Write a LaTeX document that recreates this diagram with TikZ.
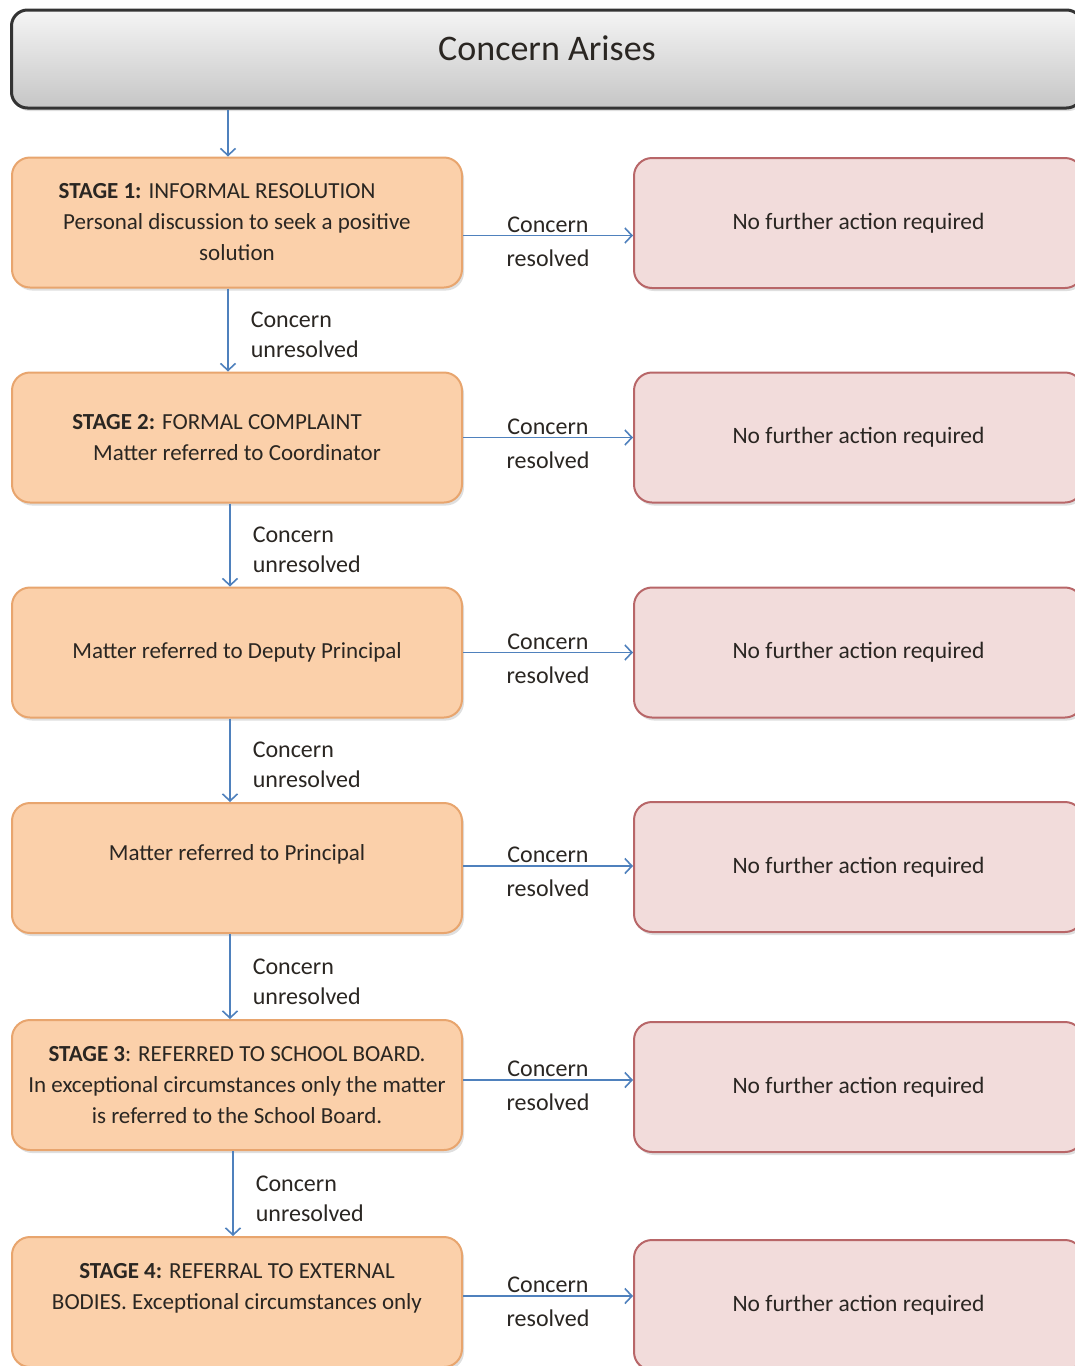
\documentclass[tikz,border=0pt]{standalone}
\usepackage{fontspec}
\setmainfont{Carlito}
\usetikzlibrary{arrows.meta,shadows}
\definecolor{orfill}{HTML}{FBD0AA}
\definecolor{ordraw}{HTML}{E8A56E}
\definecolor{pkfill}{HTML}{F2DCDB}
\definecolor{pkdraw}{HTML}{B86668}
\definecolor{arrblue}{HTML}{4F81BD}
\definecolor{txt}{HTML}{2A2622}
\begin{document}
\begin{tikzpicture}[x=1pt,y=-1pt,
  every node/.style={text=txt},
  shad/.style={drop shadow={opacity=0.25,shadow xshift=2pt,shadow yshift=-3pt}},
  topbox/.style={draw=black!80,line width=3pt,rounded corners=16pt,top color=gray!8,bottom color=gray!45,
    minimum width=1071pt,minimum height=98pt,inner sep=0pt,shad},
  stagebox/.style={draw=ordraw,line width=2pt,fill=orfill,rounded corners=18pt,
    minimum width=450pt,minimum height=130pt,inner sep=0pt,align=center,
    font=\fontsize{23}{31}\selectfont,shad},
  donebox/.style={draw=pkdraw,line width=2pt,fill=pkfill,rounded corners=18pt,
    minimum width=449pt,minimum height=130pt,inner sep=0pt,align=center,
    font=\fontsize{23.5}{31}\selectfont,shad},
  arr/.style={draw=arrblue,line width=1.6pt,-{Straight Barb[length=7pt,width=15pt,line width=1.6pt]}},
  rlbl/.style={midway,yshift=-6pt,align=center,inner sep=0pt,font=\fontsize{24}{34}\selectfont},
  ulbl/.style={midway,anchor=west,xshift=22pt,yshift=-5pt,align=left,inner sep=0pt,font=\fontsize{24}{30}\selectfont},
  ttl/.style={inner sep=0pt,font=\fontsize{36}{40}\selectfont}
]
\useasboundingbox (0,0) rectangle (1075,1366);
\clip (0,0) rectangle (1075,1366);
\fill[white] (0,0) rectangle (1075,1366);

% top box
\node[topbox] (top) at (547,59) {};
\node[ttl] (toptxt) at (547,48) {Concern Arises};

% stage boxes
\node[stagebox] (s1) at (237,222.5) {\textbf{STAGE 1:} INFORMAL RESOLUTION\hspace*{40pt}\\Personal discussion to seek a positive\\solution};
\node[stagebox] (s2) at (237,437.5) {\textbf{STAGE 2:} FORMAL COMPLAINT\hspace*{40pt}\\Matter referred to Coordinator};
\node[stagebox] (s3) at (237,652.5) {Matter referred to Deputy Principal};
\node[stagebox] (s4) at (237,868) {Matter referred to Principal\\\mbox{}};
\node[stagebox] (s5) at (237,1085) {\textbf{STAGE 3}: REFERRED TO SCHOOL BOARD.\\In exceptional circumstances only the matter\\is referred to the School Board.};
\node[stagebox] (s6) at (237,1302) {\textbf{STAGE 4:} REFERRAL TO EXTERNAL\\BODIES. Exceptional circumstances only\\\mbox{}};

% done boxes
\node[donebox] (r1) at (858.5,223) {No further action required};
\node[donebox] (r2) at (858.5,437.5) {No further action required};
\node[donebox] (r3) at (858.5,652.5) {No further action required};
\node[donebox] (r4) at (858.5,867) {No further action required};
\node[donebox] (r5) at (858.5,1087) {No further action required};
\node[donebox] (r6) at (858.5,1305) {No further action required};

% vertical arrows
\coordinate (c0) at ([xshift=-9pt]s1.north);
\coordinate (c1) at ([xshift=-9pt]s1.south);
\coordinate (c2) at ([xshift=-7pt]s2.south);
\coordinate (c3) at ([xshift=-7pt]s3.south);
\coordinate (c4) at ([xshift=-7pt]s4.south);
\coordinate (c5) at ([xshift=-4pt]s5.south);
\draw[arr] (c0 |- top.south) -- (c0);
\draw[arr] (c1) -- node[ulbl]{Concern\\unresolved} (c1 |- s2.north);
\draw[arr] (c2) -- node[ulbl]{Concern\\unresolved} (c2 |- s3.north);
\draw[arr] (c3) -- node[ulbl]{Concern\\unresolved} (c3 |- s4.north);
\draw[arr] (c4) -- node[ulbl]{Concern\\unresolved} (c4 |- s5.north);
\draw[arr] (c5) -- node[ulbl]{Concern\\unresolved} (c5 |- s6.north);

% horizontal arrows
\coordinate (h1) at ([yshift=-13pt]s1.east);
\coordinate (h2) at (s2.east);
\coordinate (h3) at (s3.east);
\coordinate (h4) at ([yshift=2pt]s4.east);
\coordinate (h5) at ([yshift=5pt]s5.east);
\coordinate (h6) at ([yshift=6pt]s6.east);
\draw[arr] (h1) -- node[rlbl]{Concern\\resolved} (h1 -| r1.west);
\draw[arr] (h2) -- node[rlbl]{Concern\\resolved} (h2 -| r2.west);
\draw[arr] (h3) -- node[rlbl]{Concern\\resolved} (h3 -| r3.west);
\draw[arr] (h4) -- node[rlbl]{Concern\\resolved} (h4 -| r4.west);
\draw[arr] (h5) -- node[rlbl]{Concern\\resolved} (h5 -| r5.west);
\draw[arr] (h6) -- node[rlbl]{Concern\\resolved} (h6 -| r6.west);
\end{tikzpicture}
\end{document}
